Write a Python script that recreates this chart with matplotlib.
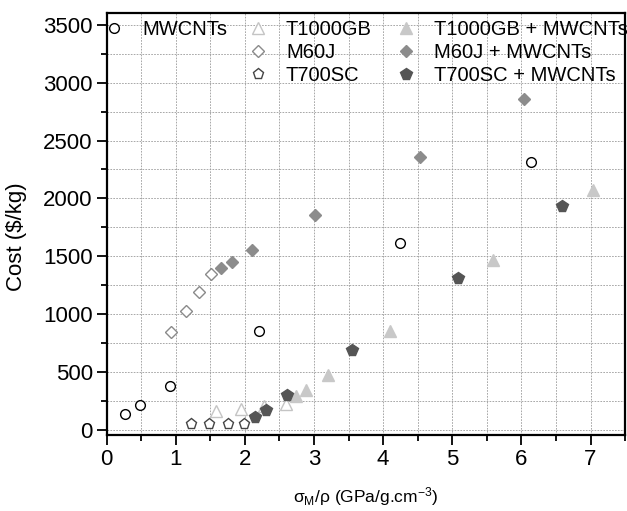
import matplotlib
matplotlib.use("Agg")
import matplotlib.pyplot as plt
from matplotlib.ticker import MultipleLocator

plt.rcParams['font.family'] = ['Liberation Sans', 'DejaVu Sans']
plt.rcParams['mathtext.fontset'] = 'custom'
plt.rcParams['mathtext.rm'] = 'Liberation Sans'
plt.rcParams['mathtext.it'] = 'Liberation Sans'

# data
mwcnt_x = [0.27, 0.49, 0.92, 2.21, 4.24, 6.14]
mwcnt_y = [136, 216, 380, 855, 1610, 2317]

m60j_x = [0.93, 1.15, 1.34, 1.51]
m60j_y = [846, 1028, 1194, 1347]

m60j_cnt_x = [1.66, 1.82, 2.11, 3.01, 4.54, 6.04]
m60j_cnt_y = [1396, 1448, 1554, 1857, 2360, 2856]

t700_x = [1.22, 1.48, 1.75, 1.99]
t700_y = [47, 47, 47, 47]

t700_cnt_x = [2.15, 2.30, 2.61, 3.55, 5.08, 6.59]
t700_cnt_y = [110, 173, 302, 691, 1315, 1937]

t1000_x = [1.58, 1.94, 2.27, 2.59]
t1000_y = [158, 179, 201, 224]

t1000_cnt_x = [2.74, 2.89, 3.20, 4.10, 5.59, 7.03]
t1000_cnt_y = [293, 345, 475, 855, 1468, 2073]

fig = plt.figure(figsize=(6.27, 5.11), dpi=100)
ax = fig.add_axes([0.170, 0.149, 0.827, 0.825])

h_mw, = ax.plot(mwcnt_x, mwcnt_y, 'o', ms=7, mfc='white', mec='black', mew=1.0, ls='none', label='MWCNTs')
h_t1, = ax.plot(t1000_x, t1000_y, '^', ms=8, mfc='white', mec='#c4c4c4', mew=1.0, ls='none', label='T1000GB')
h_m6, = ax.plot(m60j_x, m60j_y, 'D', ms=6, mfc='white', mec='#8a8a8a', mew=1.0, ls='none', label='M60J')
h_t7, = ax.plot(t700_x, t700_y, 'p', ms=8, mfc='white', mec='#444444', mew=1.0, ls='none', label='T700SC')
h_t1c, = ax.plot(t1000_cnt_x, t1000_cnt_y, '^', ms=8, mfc='#c8c8c8', mec='#c8c8c8', ls='none', label='T1000GB + MWCNTs')
h_m6c, = ax.plot(m60j_cnt_x, m60j_cnt_y, 'D', ms=6, mfc='#8c8c8c', mec='#8c8c8c', ls='none', label='M60J + MWCNTs')
h_t7c, = ax.plot(t700_cnt_x, t700_cnt_y, 'p', ms=8.5, mfc='#555555', mec='#555555', ls='none', label='T700SC + MWCNTs')

ax.set_xlim(0, 7.5)
ax.set_ylim(-45, 3600)
ax.xaxis.set_major_locator(MultipleLocator(1))
ax.xaxis.set_minor_locator(MultipleLocator(0.5))
ax.yaxis.set_major_locator(MultipleLocator(500))
ax.yaxis.set_minor_locator(MultipleLocator(250))
ax.grid(True, which='both', color='#9a9a9a', ls=(0, (2, 1.5)), lw=0.6)
ax.set_axisbelow(True)
ax.tick_params(which='both', direction='out', top=False, right=False, width=1.3, labelsize=16, pad=3)
ax.tick_params(which='major', length=7)
ax.tick_params(which='minor', length=4)
for s in ax.spines.values():
    s.set_linewidth(1.6)

ax.set_ylabel('Cost ($/kg)', fontsize=16)
ax.yaxis.set_label_coords(-0.154, 0.471)
ax.set_xlabel(r'σ$_\mathregular{M}$/ρ (GPa/g.cm$^\mathregular{-3}$)', fontsize=12.5)
ax.xaxis.set_label_coords(0.5, -0.118)

kw = dict(frameon=False, fontsize=14.5, handlelength=1.0, handletextpad=0.9,
          labelspacing=0.2, borderpad=0, borderaxespad=0, loc='upper left')
leg1 = ax.legend(handles=[h_mw], bbox_to_anchor=(-0.005, 0.985), **kw)
ax.add_artist(leg1)
leg2 = ax.legend(handles=[h_t1, h_m6, h_t7], bbox_to_anchor=(0.272, 0.985), **kw)
ax.add_artist(leg2)
ax.legend(handles=[h_t1c, h_m6c, h_t7c], bbox_to_anchor=(0.558, 0.985), **kw)

fig.savefig('out.png', dpi=100)
